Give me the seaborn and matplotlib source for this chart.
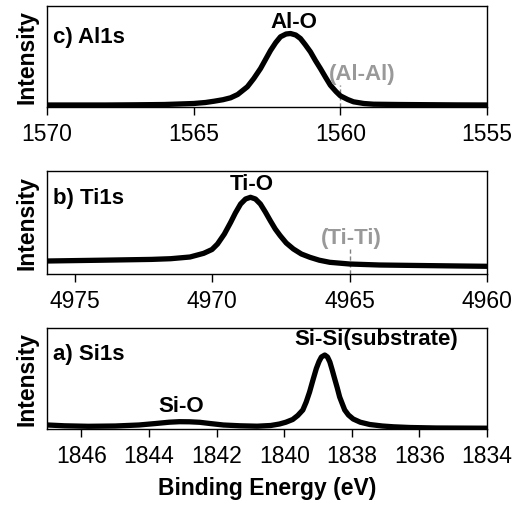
import matplotlib
matplotlib.use("Agg")
import matplotlib.pyplot as plt
import seaborn as sns
import pandas as pd

# ---------------- data ----------------
al_energy = [1570.0, 1569.0, 1568.0, 1567.0, 1566.0, 1565.5, 1565.0, 1564.6, 1564.3, 1564.0,
             1563.74, 1563.5, 1563.17, 1562.95, 1562.72, 1562.55, 1562.38, 1562.2, 1562.04,
             1561.85, 1561.70, 1561.52, 1561.36, 1561.2, 1561.02, 1560.85, 1560.68, 1560.5,
             1560.34, 1560.15, 1560.0, 1559.75, 1559.55, 1559.2, 1558.87, 1558.0, 1557.0,
             1556.0, 1555.0]
al_intensity = [1.5, 1.5, 1.5, 1.7, 2.0, 2.5, 3.0, 4.0, 5.3, 6.8,
                8.7, 12.0, 19.7, 28.0, 38.0, 47.0, 56.0, 64.0, 69.7,
                72.5, 73.0, 71.5, 68.0, 62.0, 54.7, 46.0, 38.0, 29.0,
                21.3, 15.0, 10.7, 7.0, 4.7, 3.0, 2.3, 2.0, 1.8,
                1.6, 1.5]

ti_energy = [4976.0, 4974.0, 4972.2, 4971.5, 4970.8, 4970.3, 4970.0, 4969.8, 4969.55, 4969.32,
             4969.15, 4968.96, 4968.78, 4968.6, 4968.42, 4968.24, 4968.06, 4967.88, 4967.7,
             4967.52, 4967.3, 4967.04, 4966.75, 4966.44, 4966.1, 4965.72, 4965.0, 4963.92,
             4962.5, 4961.0, 4960.0]
ti_intensity = [13.0, 13.8, 14.6, 15.3, 17.0, 20.7, 24.5, 30.0, 40.0, 51.7,
                61.0, 70.0, 75.0, 76.7, 75.0, 70.0, 62.0, 53.3, 45.0,
                38.3, 31.0, 25.0, 20.0, 16.7, 13.8, 11.7, 10.0, 9.0,
                8.5, 8.0, 7.7]

si_energy = [1847.0, 1846.5, 1845.8, 1845.0, 1844.3, 1843.8, 1843.4, 1843.1, 1842.8, 1842.5,
             1842.2, 1841.8, 1841.3, 1840.8, 1840.4, 1840.14, 1839.95, 1839.75, 1839.6, 1839.45,
             1839.35, 1839.25, 1839.15, 1839.05, 1838.97, 1838.90, 1838.80, 1838.72, 1838.65,
             1838.58, 1838.51, 1838.43, 1838.36, 1838.28, 1838.21, 1838.1, 1837.96, 1837.75,
             1837.47, 1837.1, 1836.77, 1836.28, 1835.5, 1834.0]
si_intensity = [4.0, 3.2, 2.7, 3.0, 4.0, 5.5, 6.8, 7.3, 7.2, 6.7,
                5.5, 4.0, 3.2, 2.8, 3.5, 5.0, 6.8, 9.5, 13.5, 19.0,
                27.0, 37.0, 49.0, 60.5, 67.5, 72.0, 74.0, 72.0, 67.0,
                59.0, 50.5, 41.0, 32.0, 25.0, 19.0, 14.0, 10.0, 6.8,
                4.5, 3.0, 2.2, 1.5, 1.0, 0.8]

panel_titles = ["c) Al1s", "b) Ti1s", "a) Si1s"]
al_ticks = [1570, 1565, 1560, 1555]
ti_ticks = [4975, 4970, 4965, 4960]
si_ticks = [1846, 1844, 1842, 1840, 1838, 1836, 1834]
xlims = [(1570, 1555), (4976, 4960), (1847.02, 1834)]

# peak labels: (text, energy, intensity)
al_labels = [("Al-O", 1561.6, 85.0)]
ti_labels = [("Ti-O", 4968.55, 91.0)]
si_labels = [("Si-Si(substrate)", 1837.27, 90.0), ("Si-O", 1843.06, 23.3)]
# metal reference markers: (text, energy, label energy, label intensity, line top)
al_ref = [("(Al-Al)", 1560.0, 1559.25, 33.0, 22.0)]
ti_ref = [("(Ti-Ti)", 4965.0, 4964.93, 36.7, 25.0)]

# ---------------- style ----------------
sns.set_style("white")
plt.rcParams['font.family'] = ['Liberation Sans', 'DejaVu Sans']
plt.rcParams['text.color'] = 'black'
plt.rcParams['axes.labelcolor'] = 'black'
plt.rcParams['xtick.color'] = 'black'
plt.rcParams['ytick.color'] = 'black'

fig = plt.figure(figsize=(5.17, 5.06), dpi=100)
left, right = 47 / 517, 487 / 517
boxes = [(7, 107.5), (172, 275), (328.5, 430)]
axes = []
for top_px, bot_px in boxes:
    b = 1 - bot_px / 506
    h = (bot_px - top_px) / 506
    axes.append(fig.add_axes([left, b, right - left, h]))

datasets = [(al_energy, al_intensity), (ti_energy, ti_intensity), (si_energy, si_intensity)]
ticks = [al_ticks, ti_ticks, si_ticks]
labels = [al_labels, ti_labels, si_labels]
refs = [al_ref, ti_ref, []]
ylims = [(0, 100.5), (0, 103), (0, 101.5)]

for i, ax in enumerate(axes):
    e, inten = datasets[i]
    df = pd.DataFrame({"E": e, "I": inten})
    sns.lineplot(data=df, x="E", y="I", ax=ax, color="black", lw=3.8,
                 sort=False, estimator=None)
    ax.set_xlim(*xlims[i])
    ax.set_ylim(*ylims[i])
    ax.set_xticks(ticks[i])
    ax.set_xticklabels([str(t) for t in ticks[i]], fontsize=16.5, color="black")
    ax.set_yticks([])
    ax.tick_params(axis="x", direction="out", length=6, width=1, pad=5,
                   bottom=True, colors="black")
    for sp in ax.spines.values():
        sp.set_visible(True)
        sp.set_color("black")
        sp.set_linewidth(1.0)
    ax.set_ylabel("Intensity", fontsize=16.5, fontweight="bold", labelpad=6, color="black")
    ax.set_xlabel("")
    ax.text(0.013, 0.74 if i else 0.70, panel_titles[i], transform=ax.transAxes,
            ha="left", va="center", fontsize=16, fontweight="bold", color="black")
    for txt, ex, iy in labels[i]:
        ax.text(ex, iy, txt, ha="center", va="center", fontsize=16, fontweight="bold",
                color="black")
    for txt, ex, lx, ly, ltop in refs[i]:
        ax.vlines(ex, 0, ltop, colors="#808080", linestyles=(0, (3, 2)), lw=1.0, zorder=1)
        ax.text(lx, ly, txt, ha="center", va="center", fontsize=16,
                fontweight="bold", color="#999999")

axes[2].set_xlabel("Binding Energy (eV)", fontsize=16.5, fontweight="bold", labelpad=6,
                   color="black")

fig.savefig("out.png", dpi=100)
